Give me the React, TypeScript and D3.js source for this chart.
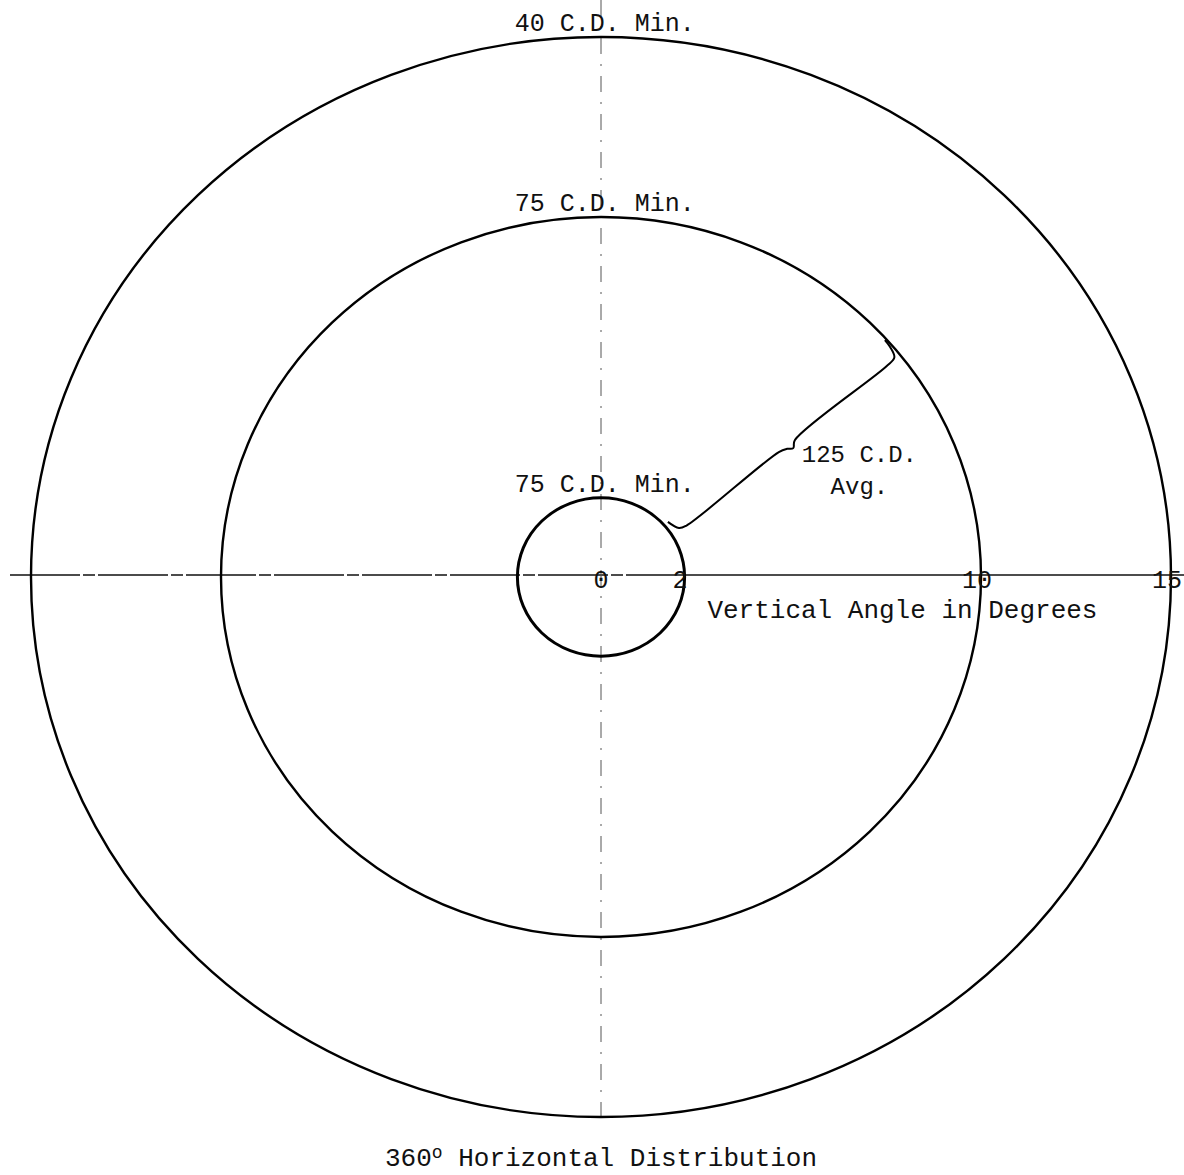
import { useEffect, useRef } from "react";
import * as d3 from "d3";

// ring radii in degrees of vertical angle, and what each one is labelled
const ringRadii = [2.2, 10, 15];
const ringLabels = ["75 C.D. Min.", "75 C.D. Min.", "40 C.D. Min."];
const ringWidths = [3, 2.4, 2.4];

// tick values along the vertical-angle axis
const tickValues = [0, 2, 10, 15];
const tickLabels = ["0", "2", "10", "15"];

// leader from the inner ring to the 10 degree ring (degrees, degrees)
const leaderX = [1.76, 2.05, 2.25, 4.68, 4.9, 5.06, 5.1, 7.52, 7.72, 7.6, 7.47];
const leaderY = [1.53, 1.36, 1.43, 3.47, 3.56, 3.58, 3.8, 5.86, 6.1, 6.4, 6.58];
const leaderText = ["125 C.D.", "Avg."];

const W = 1184;
const H = 1175;
const FONT = "'Liberation Mono', 'DejaVu Sans Mono', monospace";

function App() {
  const ref = useRef<SVGSVGElement>(null);

  useEffect(() => {
    const svg = d3.select(ref.current);
    svg.selectAll("*").remove();

    const cx = 601;
    const cy = 577;
    const x = d3.scaleLinear().domain([0, 15]).range([cx, cx + 570]);
    const y = d3.scaleLinear().domain([0, 15]).range([cy, cy - 540]);
    const rx = (d: number) => x(d) - x(0);
    const ry = (d: number) => y(0) - y(d);

    // axes
    svg
      .append("line")
      .attr("x1", 10)
      .attr("x2", x(2.2))
      .attr("y1", y(0) - 2)
      .attr("y2", y(0) - 2)
      .attr("stroke", "#111")
      .attr("stroke-width", 1.3)
      .attr("stroke-dasharray", "70 3 12 3");
    svg
      .append("line")
      .attr("x1", x(2.2))
      .attr("x2", W)
      .attr("y1", y(0) - 2)
      .attr("y2", y(0) - 2)
      .attr("stroke", "#111")
      .attr("stroke-width", 1.3);
    svg
      .append("line")
      .attr("x1", x(0))
      .attr("x2", x(0))
      .attr("y1", 0)
      .attr("y2", y(-15.3))
      .attr("stroke", "#555")
      .attr("stroke-width", 1)
      .attr("stroke-dasharray", "16 10 2 10");

    // rings
    svg
      .selectAll(".ring")
      .data(ringRadii)
      .join("ellipse")
      .attr("class", "ring")
      .attr("cx", x(0))
      .attr("cy", y(0))
      .attr("rx", (d) => rx(d))
      .attr("ry", (d) => ry(d))
      .attr("fill", "none")
      .attr("stroke", "#000")
      .attr("stroke-width", (_, i) => ringWidths[i]);

    svg
      .selectAll(".ring-label")
      .data(ringRadii)
      .join("text")
      .attr("class", "ring-label")
      .attr("x", x(0.1))
      .attr("y", (d) => y(d) - 6)
      .attr("text-anchor", "middle")
      .attr("font-family", FONT)
      .attr("font-size", 25)
      .attr("fill", "#111")
      .text((_, i) => ringLabels[i]);

    // tick labels
    svg
      .selectAll(".tick")
      .data(tickValues)
      .join("text")
      .attr("class", "tick")
      .attr("x", (d) => x(d) + (d === 2 ? 3 : d >= 10 ? -4 : 0))
      .attr("y", y(0) + 11)
      .attr("text-anchor", "middle")
      .attr("font-family", FONT)
      .attr("font-size", 25)
      .attr("fill", "#111")
      .text((_, i) => tickLabels[i]);

    svg
      .append("text")
      .attr("x", x(2.8))
      .attr("y", y(0) + 41)
      .attr("font-family", FONT)
      .attr("font-size", 26)
      .attr("fill", "#111")
      .text("Vertical Angle in Degrees");

    // leader
    const pts = leaderX.map((d, i) => [x(d), y(leaderY[i])] as [number, number]);
    svg
      .append("path")
      .attr("d", d3.line().curve(d3.curveCatmullRom.alpha(0.5))(pts) ?? "")
      .attr("fill", "none")
      .attr("stroke", "#000")
      .attr("stroke-width", 2);

    svg
      .selectAll(".lead-label")
      .data(leaderText)
      .join("text")
      .attr("class", "lead-label")
      .attr("x", x(6.8))
      .attr("y", (_, i) => y(3.2) + i * 32)
      .attr("text-anchor", "middle")
      .attr("font-family", FONT)
      .attr("font-size", 24)
      .attr("fill", "#111")
      .text((d) => d);

    // title
    const title = svg
      .append("text")
      .attr("x", x(0))
      .attr("y", 1166)
      .attr("text-anchor", "middle")
      .attr("font-family", FONT)
      .attr("font-size", 26)
      .attr("fill", "#111");
    title.append("tspan").text("360");
    title.append("tspan").attr("font-size", 18).attr("dy", -8).text("o");
    title.append("tspan").attr("dy", 8).text(" Horizontal Distribution");
  }, []);

  return (
    <svg
      ref={ref}
      width={W}
      height={H}
      style={{ position: "absolute", left: 0, top: 0, background: "#fff" }}
    />
  );
}

export default App;
